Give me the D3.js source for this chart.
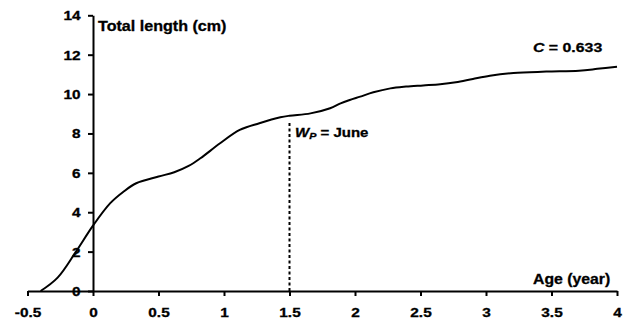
<!DOCTYPE html>
<html>
<head>
<meta charset="utf-8">
<script src="https://cdn.jsdelivr.net/npm/d3@7"></script>
<style>
  html, body { margin: 0; padding: 0; background: #fff; }
  svg { display: block; }
  text { font-family: Arial, "Liberation Sans", sans-serif; font-weight: bold; fill: #000; stroke: #000; stroke-width: 0.3px; }
</style>
</head>
<body>
<svg id="chart" width="632" height="322"></svg>
<script>
// ---- data ----
const ages = [-0.40, -0.27, -0.13, 0.00, 0.13, 0.23, 0.33, 0.50, 0.62, 0.73, 0.82, 0.97, 1.12, 1.27, 1.43, 1.50,
              1.66, 1.81, 1.89, 1.96, 2.04, 2.14, 2.27, 2.39, 2.52, 2.65, 2.77, 2.90, 3.03, 3.21, 3.46, 3.71, 3.85, 4.00];
const lengths = [0.00, 0.68, 2.00, 3.32, 4.45, 5.03, 5.47, 5.81, 6.03, 6.35, 6.74, 7.50, 8.18, 8.52, 8.82, 8.90,
                 9.02, 9.28, 9.53, 9.70, 9.87, 10.09, 10.29, 10.38, 10.44, 10.50, 10.60, 10.77, 10.93, 11.07, 11.14, 11.19, 11.28, 11.39];
const xTicks = [-0.5, 0, 0.5, 1, 1.5, 2, 2.5, 3, 3.5, 4];
const yTicks = [0, 2, 4, 6, 8, 10, 12, 14];
const wpAge = 1.5;        // W_P = June
const wpLineTop = 8.6;
const cValue = "0.633";

// ---- layout ----
const svg = d3.select("#chart");
const x = d3.scaleLinear().domain([-0.5, 4]).range([27.5, 617]);
const y = d3.scaleLinear().domain([0, 14]).range([291, 15.3]);
const SX = 1.25; // horizontal stretch of lettering
const FONT = "Arial, 'Liberation Sans', sans-serif";

// x axis
const gx = svg.append("g").attr("transform", `translate(0,${y(0)})`)
  .call(d3.axisBottom(x).tickValues(xTicks).tickSize(5).tickSizeOuter(0)
        .tickFormat(d => String(d)));
gx.select(".domain").attr("stroke", "#000").attr("stroke-width", 2);
gx.selectAll(".tick line").attr("stroke", "#000").attr("stroke-width", 2);
gx.selectAll(".tick text")
  .attr("y", 26).attr("dy", 0)
  .attr("font-size", 12.3).attr("font-family", FONT).attr("font-weight", "bold")
  .attr("transform", `scale(${SX},1)`);

// y axis
const gy = svg.append("g").attr("transform", `translate(${x(0)},0)`)
  .call(d3.axisLeft(y).tickValues(yTicks).tickSize(5).tickSizeOuter(0)
        .tickFormat(d => String(d)));
gy.select(".domain").attr("stroke", "#000").attr("stroke-width", 2);
gy.selectAll(".tick line").attr("stroke", "#000").attr("stroke-width", 2);
gy.selectAll(".tick text")
  .attr("x", -12.5 / SX).attr("dy", "0.36em")
  .attr("font-size", 12.3).attr("font-family", FONT).attr("font-weight", "bold")
  .attr("transform", `scale(${SX},1)`);

// dashed W_P line
svg.append("line")
  .attr("x1", x(wpAge)).attr("x2", x(wpAge))
  .attr("y1", y(0)).attr("y2", y(wpLineTop))
  .attr("stroke", "#000").attr("stroke-width", 2).attr("stroke-dasharray", "3,2.5");

// growth curve
const pts = ages.map((a, i) => [a, lengths[i]]);
svg.append("path")
  .datum(pts)
  .attr("fill", "none").attr("stroke", "#000").attr("stroke-width", 2)
  .attr("d", d3.line().x(d => x(d[0])).y(d => y(d[1])).curve(d3.curveCatmullRom.alpha(0.5)));

// labels
function label(px, py, size, sx) {
  return svg.append("text")
    .attr("transform", `translate(${px},${py}) scale(${sx},1)`)
    .attr("font-size", size);
}
label(98, 31, 14, 1.15).text("Total length (cm)");
label(533, 284, 14, 1.13).text("Age (year)");

const c = label(533, 51.5, 13, 1.22);
c.append("tspan").attr("font-style", "italic").text("C");
c.append("tspan").text(" = " + cValue);

const w = label(295, 136.5, 12.5, 1.2);
w.append("tspan").attr("font-style", "italic").text("W");
w.append("tspan").attr("font-style", "italic").attr("font-size", 9).attr("dy", 2).text("P");
w.append("tspan").attr("dy", -2).text(" = June");
</script>
</body>
</html>
